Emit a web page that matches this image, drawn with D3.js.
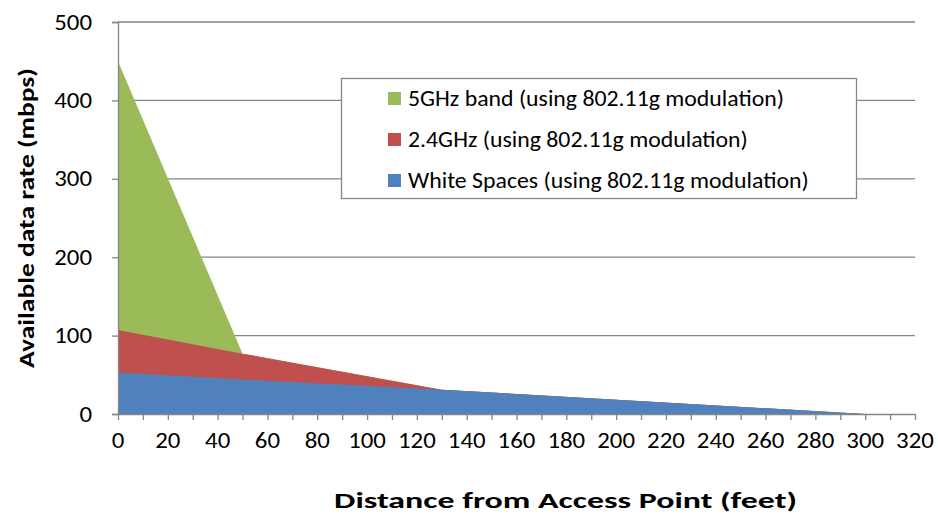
<!DOCTYPE html>
<html>
<head>
<meta charset="utf-8">
<script src="https://cdn.jsdelivr.net/npm/d3@7"></script>
<style>
  html, body { margin: 0; padding: 0; background: #fff; }
  svg { display: block; font-family: Carlito, Calibri, Lato, "Open Sans", sans-serif; }
</style>
</head>
<body>
<svg id="chart" width="938" height="517"></svg>
<script>
// Distance from the access point (feet)
const distance = [0, 50, 130, 300];
// Available data rate (mbps) for each band
const fiveGHz = [450, 77, 31, 0];
const twoFourGHz = [107, 77, 31, 0];
const whiteSpaces = [53, 44, 31, 0];

const seriesNames = [
  "5GHz band (using 802.11g modulation)",
  "2.4GHz (using 802.11g modulation)",
  "White Spaces (using 802.11g modulation)"
];
const seriesColors = ["#9BBB59", "#C0504D", "#4F81BD"];
const yTicks = [0, 100, 200, 300, 400, 500];
const xLabelTicks = [0, 20, 40, 60, 80, 100, 120, 140, 160, 180, 200, 220, 240, 260, 280, 300, 320];
const xMinorTicks = d3.range(0, 321, 10);

const svg = d3.select("#chart");
const plot = { left: 118, right: 915, top: 22, bottom: 414 };
const fontSize = 22;
const tickFontSize = 23;

const x = d3.scaleLinear().domain([0, 320]).range([plot.left, plot.right]);
const y = d3.scaleLinear().domain([0, 500]).range([plot.bottom, plot.top]);
const axisColor = "#868686";

// Places a text at (px, py), stretched horizontally so that its rendered
// width becomes `width` (or by a fixed factor `sx` when given).
function placeText(parent, str, px, py, opts) {
  const t = parent.append("text")
    .attr("font-size", opts.size || fontSize)
    .attr("font-weight", opts.bold ? "bold" : null)
    .attr("text-anchor", opts.anchor || "start")
    .attr("fill", "#000")
    .text(str);
  let sx = opts.sx || 1;
  if (opts.width) sx = opts.width / t.node().getComputedTextLength();
  t.attr("transform", `translate(${px},${py}) rotate(${opts.rotate || 0}) scale(${sx},1)`);
  return sx;
}

// horizontal gridlines
svg.append("g").selectAll("line")
  .data(yTicks.filter(d => d > 0))
  .join("line")
  .attr("x1", plot.left).attr("x2", plot.right)
  .attr("y1", d => y(d)).attr("y2", d => y(d))
  .attr("stroke", axisColor).attr("stroke-width", 1.3);

// overlapping areas, drawn back to front
const series = [fiveGHz, twoFourGHz, whiteSpaces];
const area = d3.area()
  .x((d, i) => x(distance[i]))
  .y0(y(0))
  .y1(d => y(d));
svg.append("g").selectAll("path")
  .data(series)
  .join("path")
  .attr("d", d => area(d))
  .attr("fill", (d, i) => seriesColors[i]);

// legend
const legend = svg.append("g");
legend.append("rect")
  .attr("x", 341.5).attr("y", 78.5)
  .attr("width", 515).attr("height", 120)
  .attr("fill", "#fff").attr("stroke", axisColor).attr("stroke-width", 1.3);
const legendWidths = [376, 340, 401];
let textStretch = 1;
seriesNames.forEach((name, i) => {
  const rowY = 92 + i * 41;
  legend.append("rect")
    .attr("x", 388).attr("y", rowY)
    .attr("width", 13).attr("height", 13)
    .attr("fill", seriesColors[i]);
  const s = placeText(legend, name, 408, rowY + 14, { width: legendWidths[i] });
  if (i === 0) textStretch = s;
});

// y axis
const yAxis = svg.append("g").attr("transform", `translate(${plot.left},0)`)
  .call(d3.axisLeft(y).tickValues(yTicks).tickSize(6).tickFormat(""));
yAxis.select(".domain").attr("stroke", axisColor).attr("stroke-width", 1.3);
yAxis.selectAll(".tick line").attr("stroke", axisColor).attr("stroke-width", 1.3);
const yLabels = svg.append("g");
yTicks.forEach(v => placeText(yLabels, String(v), 92, y(v) + 7.5,
  { anchor: "end", sx: textStretch, size: tickFontSize }));

// x axis: minor ticks every 10 ft, labels every 20 ft
const xAxis = svg.append("g").attr("transform", `translate(0,${plot.bottom})`)
  .call(d3.axisBottom(x).tickValues(xMinorTicks).tickSize(6).tickSizeOuter(0).tickFormat(""));
xAxis.select(".domain").attr("stroke", axisColor).attr("stroke-width", 1.3);
xAxis.selectAll(".tick line").attr("stroke", axisColor).attr("stroke-width", 1.3);
const xLabels = svg.append("g");
xLabelTicks.forEach(v => placeText(xLabels, String(v), x(v), 448,
  { anchor: "middle", sx: textStretch, size: tickFontSize }));

// axis titles
placeText(svg, "Distance from Access Point (feet)", 565.5, 508, { anchor: "middle", bold: true, width: 463, size: 23 });
placeText(svg, "Available data rate (mbps)", 34, 218, { anchor: "middle", bold: true, width: 300, rotate: -90, size: 23 });
</script>
</body>
</html>
